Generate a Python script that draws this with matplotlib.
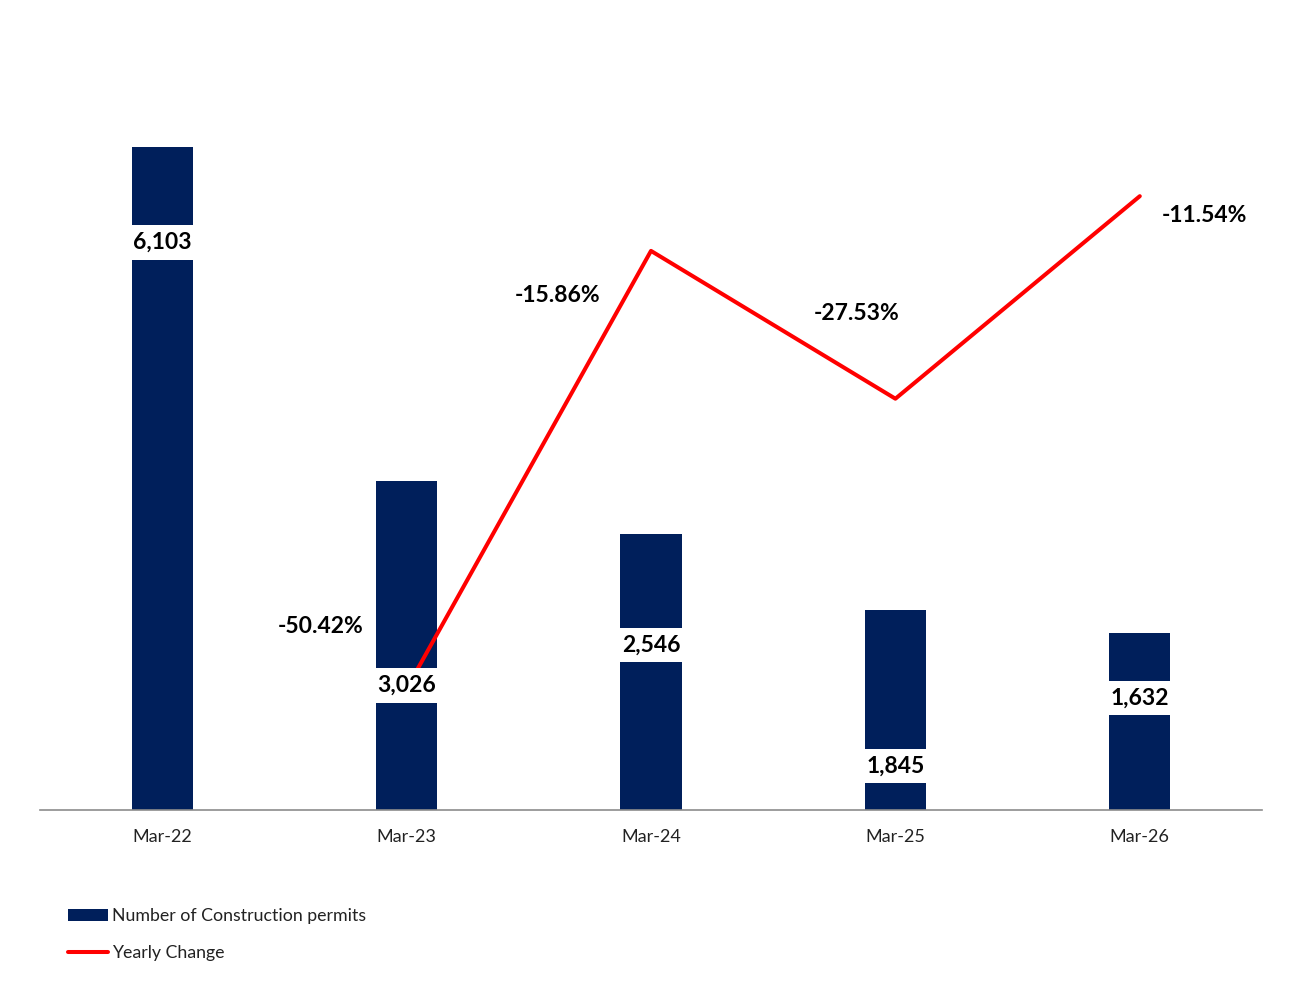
import numpy as np
import matplotlib
matplotlib.use("Agg")
import matplotlib.pyplot as plt
from matplotlib.patches import Rectangle
from matplotlib.lines import Line2D

plt.rcParams['font.family'] = ['Lato', 'DejaVu Sans']

months = ['Mar-22', 'Mar-23', 'Mar-24', 'Mar-25', 'Mar-26']
permits = [6103, 3026, 2546, 1845, 1632]
change = [np.nan, -50.42, -15.86, -27.53, -11.54]

# where the value boxes sit inside the bars (in permit units)
label_y = [5230, 1150, 1520, 405, 1032]
# pixel offsets of the % labels from the line points
pct_off = [None, (-86, 62), (-93, -45), (-39, 85), (65, -19)]

navy = '#001F5B'
red = '#FF0000'

fig = plt.figure(figsize=(13.16, 9.9), dpi=100)
ax = fig.add_axes([40/1316, 180/990, 1222/1316, 760/990])
ax2 = ax.twinx()

x = np.arange(len(months))
ax.bar(x, permits, width=0.25, color=navy, zorder=2)
ax.set_xlim(-0.5, 4.5)
ax.set_ylim(0, 7000)
ax2.set_ylim(-60, 0)

ax2.plot(x, change, color=red, lw=2.9, zorder=2, solid_capstyle='round')

for a in (ax, ax2):
    for s in ['top', 'right', 'left']:
        a.spines[s].set_visible(False)
    a.set_yticks([])
ax2.spines['bottom'].set_visible(False)
ax.spines['bottom'].set_color('#8c8c8c')
ax.spines['bottom'].set_linewidth(1.2)
ax.set_xticks(x)
ax.set_xticklabels(months, fontsize=13, color='#222222')
ax.tick_params(axis='x', length=0, pad=14)

# value boxes drawn on ax2 so they cover the line
for i, v in enumerate(permits):
    ax2.text(x[i], label_y[i], f'{v:,}', transform=ax.transData,
             ha='center', va='center', fontsize=16.5, fontweight='bold',
             color='black', zorder=5,
             bbox=dict(boxstyle='square,pad=0.3', fc='white', ec='none'))

for i, c in enumerate(change):
    if np.isnan(c):
        continue
    ax2.annotate(f'{c:.2f}%', (x[i], c), xytext=pct_off[i],
                 textcoords='offset pixels', ha='center', va='center',
                 fontsize=16.5, fontweight='bold', color='black', zorder=6)

# legend at bottom left
fig.patches.append(Rectangle((68/1316, 1 - 921/990), 40/1316, 12/990,
                             transform=fig.transFigure, fc=navy, ec='none'))
fig.lines.append(Line2D([68/1316, 108/1316], [1 - 952/990, 1 - 952/990],
                        transform=fig.transFigure, color=red, lw=2.9,
                        solid_capstyle='round'))
fig.text(112/1316, 1 - 916/990, 'Number of Construction permits',
         fontsize=12.8, va='center', ha='left', color='#222222')
fig.text(112/1316, 1 - 953/990, 'Yearly Change',
         fontsize=12.8, va='center', ha='left', color='#222222')

fig.savefig('out.png', dpi=100, facecolor='white')
